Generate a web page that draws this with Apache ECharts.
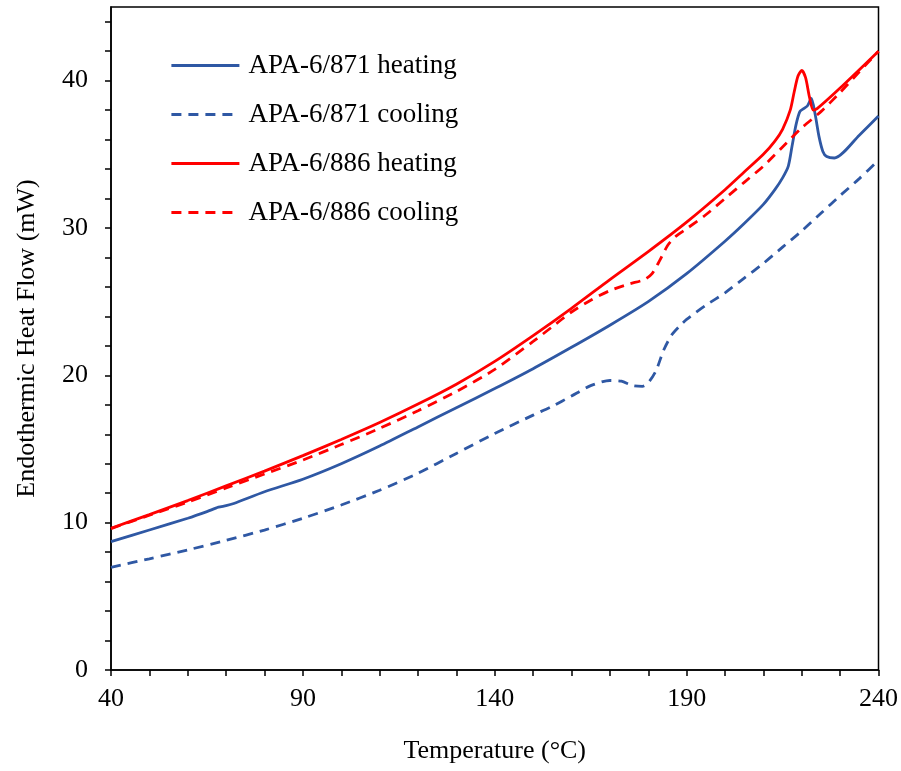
<!DOCTYPE html>
<html>
<head>
<meta charset="utf-8">
<script src="https://cdn.jsdelivr.net/npm/echarts@6/dist/echarts.min.js"></script>
<style>html,body{margin:0;padding:0;background:#fff}#c{width:901px;height:771px}</style>
</head>
<body>
<div id="c"></div>
<script>
// ---- data ----
const seriesNames = ['APA-6/871 heating', 'APA-6/871 cooling', 'APA-6/886 heating', 'APA-6/886 cooling'];

const t871heat = [40,50,60,65,68,70,72,80,90,100,110,120,130,140,150,160,170,180,190,200,205,210,213,215,216.5,217.5,218.5,219.5,220.5,221.5,222.5,223.5,224.5,225.5,226.5,228.5,235,240];
const v871heat = [8.71,9.5,10.3,10.75,11.05,11.15,11.3,12.1,12.95,14.0,15.2,16.5,17.8,19.1,20.45,21.9,23.4,25.0,26.9,29.1,30.3,31.6,32.6,33.4,34.2,35.6,37.0,37.9,38.1,38.3,38.8,37.7,36.2,35.2,34.85,34.75,36.3,37.6];

const t871cool = [40,50,60,70,80,90,100,110,120,130,140,150,155,160,165,170,173,176,178.5,180,182,184,186,188,190,195,200,205,210,215,220,225,230,235,240];
const v871cool = [6.97,7.55,8.15,8.8,9.5,10.3,11.2,12.2,13.35,14.7,16.05,17.3,17.9,18.6,19.3,19.65,19.6,19.3,19.25,19.5,20.3,21.7,22.7,23.3,23.8,24.75,25.6,26.6,27.6,28.7,29.8,31.0,32.2,33.35,34.6];

const t886heat = [40,50,60,70,80,90,100,110,120,130,140,150,160,170,180,190,200,205,210,213,215,217,218,219,220,221,222,223,224,230,240];
const v886heat = [9.62,10.55,11.5,12.5,13.5,14.55,15.65,16.8,18.05,19.4,20.95,22.7,24.55,26.5,28.4,30.4,32.6,33.8,35.0,35.9,36.7,38.0,39.2,40.3,40.7,40.2,38.9,38.0,38.1,39.5,42.0];

const t886cool = [40,50,60,70,80,90,100,110,120,130,140,150,155,160,165,170,175,179,181,183,185,187,190,195,200,205,210,215,220,225,230,235,240];
const v886cool = [9.6,10.5,11.4,12.35,13.3,14.25,15.3,16.4,17.6,18.9,20.4,22.3,23.3,24.3,25.1,25.75,26.2,26.5,26.9,27.8,28.8,29.4,29.95,30.9,32.0,33.1,34.2,35.5,36.8,37.9,39.2,40.6,42.0];

const xTickLabels = [40, 90, 140, 190, 240];
const yTickLabels = [0, 10, 20, 30, 40];

// ---- chart ----
const pair = (t, v) => t.map((x, i) => [x, v[i]]);
const BLUE = '#2F58A4', RED = '#FF0000';
const font = 'Liberation Serif';

const chart = echarts.init(document.getElementById('c'), null, {renderer: 'canvas'});
const mk = (name, data, color, dashed) => ({
  name, type: 'line', data, symbol: 'none', smooth: 0.25, animation: false,
  lineStyle: {color, width: 2.8, type: dashed ? [10, 7] : 'solid'},
  itemStyle: {color}
});

chart.setOption({
  animation: false,
  backgroundColor: '#fff',
  grid: {left: 111, right: 22, top: 7, bottom: 101, show: true, borderColor: '#000', borderWidth: 1.5, backgroundColor: 'transparent'},
  legend: {
    show: true,
    orient: 'vertical', left: 165, top: 47,
    itemWidth: 68, itemHeight: 27, itemGap: 22,
    itemStyle: {opacity: 0},
    lineStyle: {width: 2.8},
    textStyle: {fontFamily: font, fontSize: 27, color: '#000', padding: [0, 0, 0, 4]},
    data: seriesNames
  },
  xAxis: {
    type: 'value', min: 40, max: 240, interval: 10,
    name: 'Temperature (°C)', nameLocation: 'middle', nameGap: 68,
    nameTextStyle: {fontFamily: font, fontSize: 26, color: '#000'},
    axisLine: {onZero: false, lineStyle: {color: '#000', width: 1.5}},
    axisTick: {show: true, inside: false, length: 6, lineStyle: {color: '#000', width: 1.5}},
    axisLabel: {fontFamily: font, fontSize: 26, color: '#000', margin: 16,
      formatter: v => xTickLabels.includes(v) ? String(v) : ''},
    splitLine: {show: false}
  },
  yAxis: {
    type: 'value', min: 0, max: 45, interval: 2,
    name: 'Endothermic Heat Flow (mW)', nameLocation: 'middle', nameGap: 71,
    nameTextStyle: {fontFamily: font, fontSize: 26, color: '#000'},
    axisLine: {show: true, onZero: false, lineStyle: {color: '#000', width: 1.5}},
    axisTick: {show: true, inside: false, length: 6, lineStyle: {color: '#000', width: 1.5}},
    axisLabel: {fontFamily: font, fontSize: 26, color: '#000', margin: 23, showMaxLabel: false,
      formatter: v => yTickLabels.includes(v) ? String(v) : ''},
    splitLine: {show: false}
  },
  series: [
    mk(seriesNames[0], pair(t871heat, v871heat), BLUE, false),
    mk(seriesNames[1], pair(t871cool, v871cool), BLUE, true),
    mk(seriesNames[2], pair(t886heat, v886heat), RED, false),
    mk(seriesNames[3], pair(t886cool, v886cool), RED, true)
  ]
});
</script>
</body>
</html>
